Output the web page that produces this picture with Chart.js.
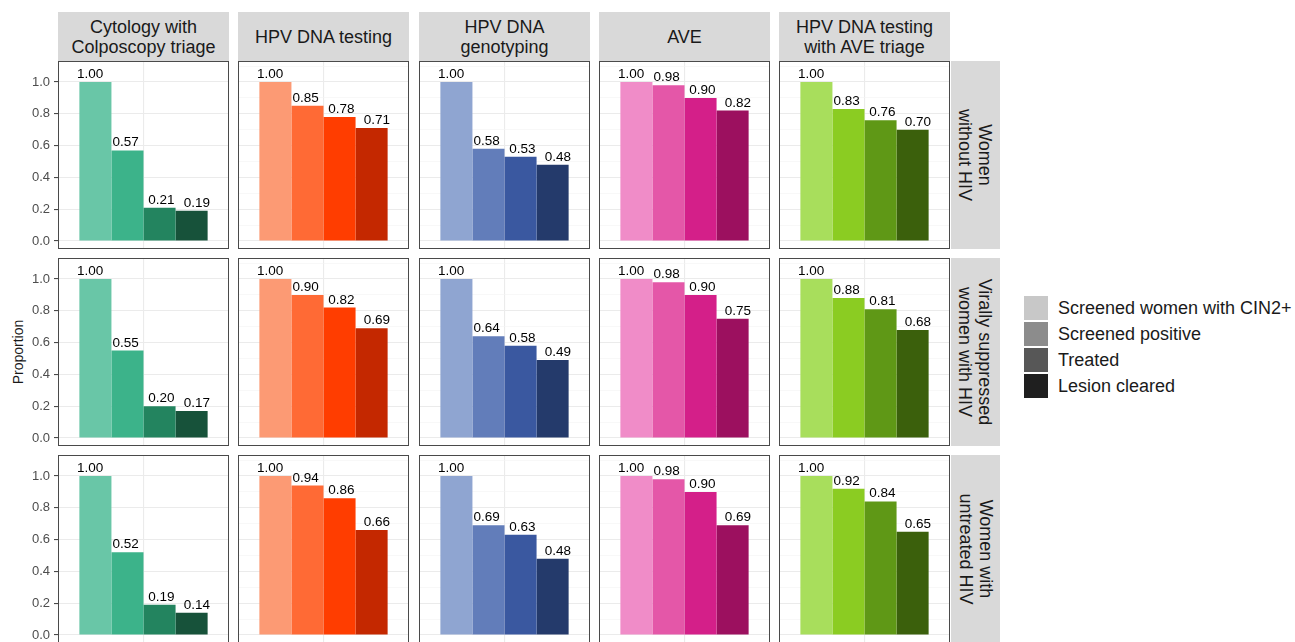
<!DOCTYPE html>
<html>
<head>
<meta charset="utf-8">
<script src="https://cdn.jsdelivr.net/npm/chart.js@4/dist/chart.umd.min.js"></script>
<style>
  body { margin: 0; background: #fff; font-family: "Liberation Sans", Arial, sans-serif; }
  #fig { position: relative; width: 1295px; height: 642px; overflow: hidden; }
  canvas { position: absolute; }
  .strip { position: absolute; background: #d9d9d9; color: #1a1a1a; font-size: 18px; line-height: 20px;
           display: flex; align-items: center; justify-content: center; text-align: center; white-space: pre; }
  .rstrip span { transform: rotate(90deg); white-space: pre; }
  #ytitle { position: absolute; left: 18px; top: 352px; transform: translate(-50%, -50%) rotate(-90deg);
            font-size: 14px; color: #1a1a1a; white-space: nowrap; }
  .legend { position: absolute; left: 1024px; top: 295px; font-size: 18px; color: #1a1a1a; }
  .legend div { height: 26px; display: flex; align-items: center; }
  .legend i { display: inline-block; width: 24px; height: 24px; margin-right: 10px; }
</style>
</head>
<body>
<div id="fig"><div id="ytitle">Proportion</div></div>
<script>
var strategies = ['Cytology with\nColposcopy triage', 'HPV DNA testing', 'HPV DNA\ngenotyping', 'AVE', 'HPV DNA testing\nwith AVE triage'];
var populations = ['Women\nwithout HIV', 'Virally suppressed\nwomen with HIV', 'Women with\nuntreated HIV'];
var stages = ['Screened women with CIN2+', 'Screened positive', 'Treated', 'Lesion cleared'];
var yTicks = [0, 0.2, 0.4, 0.6, 0.8, 1.0];

// one row per population, one inner array per strategy (stages in order)
var withoutHiv = [[1.00, 0.57, 0.21, 0.19], [1.00, 0.85, 0.78, 0.71], [1.00, 0.58, 0.53, 0.48], [1.00, 0.98, 0.90, 0.82], [1.00, 0.83, 0.76, 0.70]];
var suppressedHiv = [[1.00, 0.55, 0.20, 0.17], [1.00, 0.90, 0.82, 0.69], [1.00, 0.64, 0.58, 0.49], [1.00, 0.98, 0.90, 0.75], [1.00, 0.88, 0.81, 0.68]];
var untreatedHiv = [[1.00, 0.52, 0.19, 0.14], [1.00, 0.94, 0.86, 0.66], [1.00, 0.69, 0.63, 0.48], [1.00, 0.98, 0.90, 0.69], [1.00, 0.92, 0.84, 0.65]];
var rows = [withoutHiv, suppressedHiv, untreatedHiv];

var palettes = [
  ['#69c6a7', '#3cb38a', '#23845f', '#17523a'],
  ['#fc9a74', '#ff6a35', '#ff3d00', '#c42800'],
  ['#8fa5d1', '#627dba', '#3a58a0', '#243a6b'],
  ['#f08cc8', '#e457a8', '#d41f89', '#9c105f'],
  ['#a8de5c', '#8bcc22', '#5f9816', '#3b600c']
];
var legendColors = ['#c8c8c8', '#8c8c8c', '#575757', '#1f1f1f'];

var fig = document.getElementById('fig');
var panelW = 171, panelH = 188, axisW = 58;
function colLeft(c) { return Math.round(58 + c * 180.25); }
function rowTop(r) { return 61 + r * 197; }

Chart.defaults.font.family = '"Liberation Sans", Arial, sans-serif';
Chart.defaults.animation = false;

var barLabels = {
  id: 'barLabels',
  afterDatasetsDraw: function(chart) {
    var ctx = chart.ctx, mid = chart.scales.x.getPixelForValue(0);
    ctx.save();
    ctx.font = '13.5px "Liberation Sans", Arial, sans-serif';
    ctx.fillStyle = '#000';
    ctx.textAlign = 'center';
    chart.data.datasets.forEach(function(ds, i) {
      chart.getDatasetMeta(i).data.forEach(function(bar, j) {
        // labels dodged slightly wider than bars, like the original
        ctx.fillText(ds.data[j].toFixed(2), mid + (bar.x - mid) / 0.9, bar.y - 4);
      });
    });
    ctx.restore();
  }
};

var panelBorder = {
  id: 'panelBorder',
  afterDraw: function(chart) {
    var a = chart.chartArea, ctx = chart.ctx;
    ctx.save();
    ctx.strokeStyle = '#4a4a4a';
    ctx.lineWidth = 1;
    ctx.strokeRect(a.left + 0.5, a.top + 0.5, a.right - a.left - 1, a.bottom - a.top - 1);
    ctx.restore();
  }
};

function makePanel(r, c) {
  var first = c === 0;
  var canvas = document.createElement('canvas');
  var left = first ? 0 : colLeft(c);
  var w = first ? colLeft(0) + panelW : panelW;
  canvas.width = w; canvas.height = panelH;
  canvas.style.left = left + 'px';
  canvas.style.top = rowTop(r) + 'px';
  fig.appendChild(canvas);

  var values = rows[r][c];
  new Chart(canvas, {
    type: 'bar',
    data: {
      labels: [''],
      datasets: stages.map(function(s, k) {
        return { label: s, data: [values[k]], backgroundColor: palettes[c][k], borderWidth: 0,
                 categoryPercentage: 0.75, barPercentage: 1.0 };
      })
    },
    options: {
      responsive: false,
      layout: { padding: 0 },
      plugins: { legend: { display: false }, tooltip: { enabled: false } },
      scales: {
        x: {
          ticks: { display: false },
          grid: { offset: false, color: '#ebebeb', lineWidth: 1.1, drawTicks: false },
          border: { display: false },
          afterFit: function(s) { s.height = 0; s.paddingLeft = 0; s.paddingRight = 0; }
        },
        y: {
          min: -0.05, max: 1.132,
          afterBuildTicks: function(s) {
            var step = yTicks[1] - yTicks[0], t = [];
            yTicks.forEach(function(v) {
              t.push({ value: v });
              t.push({ value: v + step / 2, minor: true });
            });
            s.ticks = t;
          },
          ticks: {
            display: first, color: '#4d4d4d', font: { size: 13 }, padding: 4,
            callback: function(v, i, t) { return t[i].minor ? '' : v.toFixed(1); }
          },
          grid: {
            drawTicks: first, tickLength: 4,
            color: function(ctx) { return ctx.tick && ctx.tick.minor ? '#f3f3f3' : '#ebebeb'; },
            lineWidth: function(ctx) { return ctx.tick && ctx.tick.minor ? 0.6 : 1.1; },
            tickColor: function(ctx) { return ctx.tick && ctx.tick.minor ? 'rgba(0,0,0,0)' : '#4a4a4a'; }
          },
          border: { display: false },
          afterFit: function(s) { s.width = first ? axisW : 0; s.paddingTop = 0; s.paddingBottom = 0; }
        }
      }
    },
    plugins: [barLabels, panelBorder]
  });
}

strategies.forEach(function(name, c) {
  var d = document.createElement('div');
  d.className = 'strip';
  d.style.left = colLeft(c) + 'px'; d.style.top = '12px';
  d.style.width = panelW + 'px'; d.style.height = '49px';
  d.textContent = name;
  fig.appendChild(d);
});

populations.forEach(function(name, r) {
  var d = document.createElement('div');
  d.className = 'strip rstrip';
  d.style.left = '951px'; d.style.top = rowTop(r) + 'px';
  d.style.width = '49px'; d.style.height = panelH + 'px';
  var sp = document.createElement('span');
  sp.textContent = name;
  d.appendChild(sp);
  fig.appendChild(d);
  for (var c = 0; c < strategies.length; c++) makePanel(r, c);
});

var lg = document.createElement('div');
lg.className = 'legend';
stages.forEach(function(s, k) {
  var item = document.createElement('div');
  var key = document.createElement('i');
  key.style.background = legendColors[k];
  item.appendChild(key);
  item.appendChild(document.createTextNode(s));
  lg.appendChild(item);
});
fig.appendChild(lg);
</script>
</body>
</html>
